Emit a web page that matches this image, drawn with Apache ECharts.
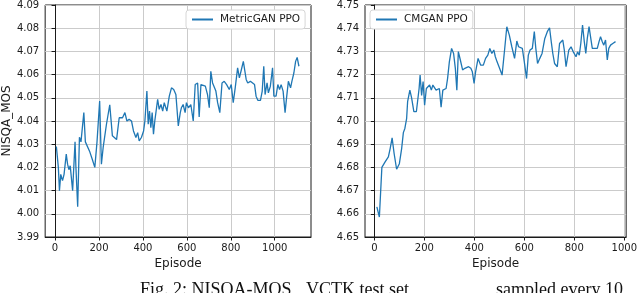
<!DOCTYPE html>
<html>
<head>
<meta charset="utf-8">
<script src="https://cdn.jsdelivr.net/npm/echarts@6/dist/echarts.min.js"></script>
<style>html,body{margin:0;padding:0;background:#fff}#c{width:640px;height:293px}</style>
</head>
<body>
<div id="c"></div>
<script>
const xTicks = [0, 200, 400, 600, 800, 1000];
const metricEpisodes = [6,15,20,26,34,41,51,57,63,69,80,91,95,103,111,118,131,138,146,157,169,181,191,203,211,219,234,249,261,280,292,307,318,327,337,348,357,368,376,383,393,403,409,418,424,430,436,442,448,454,467,474,482,490,497,509,520,530,540,550,561,570,575,583,592,598,607,618,629,638,649,656,664,671,684,694,702,709,717,725,732,740,750,760,770,781,793,802,811,820,831,839,848,857,870,877,889,898,908,915,923,935,943,950,956,965,971,980,990,996,1006,1014,1022,1029,1038,1047,1053,1062,1072,1078,1087,1095,1102,1110];
const metricValues = [4.029,4.020,4.010,4.017,4.0143,4.017,4.0257,4.0214,4.019,4.0207,4.010,4.031,4.020,4.003,4.033,4.031,4.0436,4.031,4.0307,4.027,4.0236,4.020,4.031,4.0486,4.0214,4.0286,4.0386,4.047,4.0336,4.032,4.0414,4.0414,4.0436,4.040,4.0407,4.040,4.0357,4.0329,4.035,4.0314,4.0329,4.0357,4.040,4.0529,4.0386,4.0443,4.0371,4.0436,4.0343,4.040,4.0493,4.045,4.0471,4.0443,4.0479,4.0443,4.0507,4.0543,4.0536,4.0514,4.0379,4.0436,4.0457,4.0471,4.0436,4.0479,4.0457,4.0471,4.040,4.0557,4.0564,4.0417,4.0557,4.055,4.055,4.0514,4.0457,4.0614,4.0564,4.0557,4.0529,4.0479,4.0436,4.0564,4.0571,4.0557,4.0536,4.0557,4.0479,4.0543,4.0629,4.0586,4.0621,4.0657,4.0579,4.0564,4.0571,4.0571,4.0557,4.0507,4.0489,4.0489,4.0529,4.0636,4.0514,4.0564,4.0521,4.055,4.0629,4.0507,4.0507,4.0557,4.0536,4.0557,4.0529,4.0436,4.0493,4.0571,4.0543,4.0571,4.0607,4.0657,4.0674,4.0636];
const cmganEpisodes = [10,20,30,43,56,63,71,79,89,100,109,116,122,129,133,142,149,158,168,179,183,189,195,201,208,214,221,228,234,241,247,254,260,267,274,280,287,293,300,309,317,324,330,336,344,353,362,370,377,386,392,399,405,415,425,436,445,454,462,470,478,484,491,501,511,521,530,540,550,561,570,577,583,592,600,609,616,623,632,640,646,653,662,671,682,692,701,708,714,721,732,741,748,754,760,767,778,787,796,807,813,820,826,833,840,846,852,859,866,872,882,892,899,905,912,918,925,932,938,945,954,965];
const cmganValues = [4.663,4.6586,4.680,4.6824,4.6845,4.688,4.6927,4.686,4.6792,4.6816,4.688,4.695,4.6968,4.701,4.7083,4.7133,4.710,4.704,4.704,4.714,4.7198,4.711,4.717,4.7068,4.714,4.7147,4.7155,4.7133,4.7155,4.7162,4.7133,4.7126,4.714,4.706,4.7133,4.7133,4.714,4.7184,4.7255,4.7313,4.7291,4.7227,4.7133,4.7299,4.7263,4.722,4.7227,4.722,4.7234,4.7227,4.7212,4.7162,4.7212,4.727,4.7241,4.7241,4.727,4.7284,4.7313,4.7291,4.7306,4.7277,4.7255,4.7227,4.7198,4.7306,4.7406,4.737,4.732,4.727,4.7345,4.732,4.7327,4.7313,4.7255,4.7183,4.7284,4.7306,4.7313,4.7385,4.7313,4.7248,4.727,4.7291,4.7356,4.7385,4.7402,4.734,4.7291,4.7248,4.7234,4.7334,4.7327,4.7349,4.7306,4.7234,4.7306,4.732,4.7298,4.7277,4.7298,4.7284,4.7334,4.7414,4.7342,4.7291,4.7356,4.7407,4.7356,4.7313,4.7313,4.7313,4.7342,4.7363,4.7342,4.7327,4.7349,4.7263,4.7313,4.7327,4.7334,4.7342];
const seriesNames = ['MetricGAN PPO', 'CMGAN PPO'];
const captionParts = ['Fig. 2: NISQA-MOS', 'VCTK test set', 'sampled every 10'];

const pair = (xs, ys) => xs.map((x, i) => [x, ys[i]]);
const font = 'DejaVu Sans';
const blue = '#1f77b4';
const gridColor = '#cbcbcb';
const ink = '#1a1a1a';

function xAxis(gi, min, max) {
  return {
    type: 'value', gridIndex: gi, min: min, max: max,
    name: 'Episode', nameLocation: 'middle', nameGap: 19,
    nameTextStyle: { fontFamily: font, fontSize: 12, color: ink },
    axisLine: { show: true, onZero: false, lineStyle: { color: ink, width: 1 } },
    axisTick: { show: true, length: 3.5, customValues: xTicks, lineStyle: { color: ink } },
    axisLabel: { customValues: xTicks, margin: 6, fontFamily: font, fontSize: 10, color: ink, formatter: v => String(v) },
    splitLine: { show: true, lineStyle: { color: gridColor, width: 1 } }
  };
}
function yAxis(gi, min, max, name) {
  return {
    type: 'value', gridIndex: gi, min: min, max: max, interval: 0.01,
    name: name, nameLocation: 'middle', nameGap: 32, nameRotate: 90,
    nameTextStyle: { fontFamily: font, fontSize: 12, color: ink },
    axisLine: { show: true, lineStyle: { color: ink, width: 1 } },
    axisTick: { show: true, length: 3.5, lineStyle: { color: ink } },
    axisLabel: { margin: 6, fontFamily: font, fontSize: 10, color: ink, formatter: v => v.toFixed(2) },
    splitLine: { show: true, lineStyle: { color: gridColor, width: 1 } }
  };
}
const legendCommon = {
  orient: 'horizontal', itemWidth: 21, itemHeight: 2, icon: 'rect', itemGap: 5,
  backgroundColor: '#fff', borderColor: '#d6d6d6', borderWidth: 1, borderRadius: 3,
  padding: [4, 5, 4, 6],
  textStyle: { fontFamily: font, fontSize: 10.5, color: ink, padding: [0, 0, 0, 2] }
};

const chart = echarts.init(document.getElementById('c'), null, { renderer: 'canvas' });
chart.setOption({
  animation: false,
  backgroundColor: '#fff',
  grid: [
    { left: 45, top: 5, width: 266, height: 232, show: true, borderColor: ink, borderWidth: 1, backgroundColor: 'transparent' },
    { left: 365, top: 5, width: 265, height: 232, show: true, borderColor: ink, borderWidth: 1, backgroundColor: 'transparent' }
  ],
  xAxis: [xAxis(0, -45, 1165), xAxis(1, -37.5, 1007.5)],
  yAxis: [yAxis(0, 3.99, 4.09, 'NISQA_MOS'), yAxis(1, 4.65, 4.75, '')],
  legend: [
    Object.assign({ left: 186, top: 10, data: [seriesNames[0]] }, legendCommon),
    Object.assign({ left: 370, top: 10, data: [seriesNames[1]] }, legendCommon)
  ],
  series: [
    { name: seriesNames[0], type: 'line', xAxisIndex: 0, yAxisIndex: 0, data: pair(metricEpisodes, metricValues),
      showSymbol: false, symbol: 'none', lineStyle: { color: blue, width: 1.3 }, itemStyle: { color: blue } },
    { name: seriesNames[1], type: 'line', xAxisIndex: 1, yAxisIndex: 1, data: pair(cmganEpisodes, cmganValues),
      showSymbol: false, symbol: 'none', lineStyle: { color: blue, width: 1.3 }, itemStyle: { color: blue } }
  ],
  graphic: [
    { type: 'text', left: 140, top: 281, style: { text: captionParts[0], font: '18px "Liberation Serif"', fill: '#111' } },
    { type: 'text', left: 306, top: 281, style: { text: captionParts[1], font: '18px "Liberation Serif"', fill: '#111' } },
    { type: 'text', right: 17, top: 281, style: { text: captionParts[2], font: '18px "Liberation Serif"', fill: '#111' } }
  ]
});
</script>
</body>
</html>
